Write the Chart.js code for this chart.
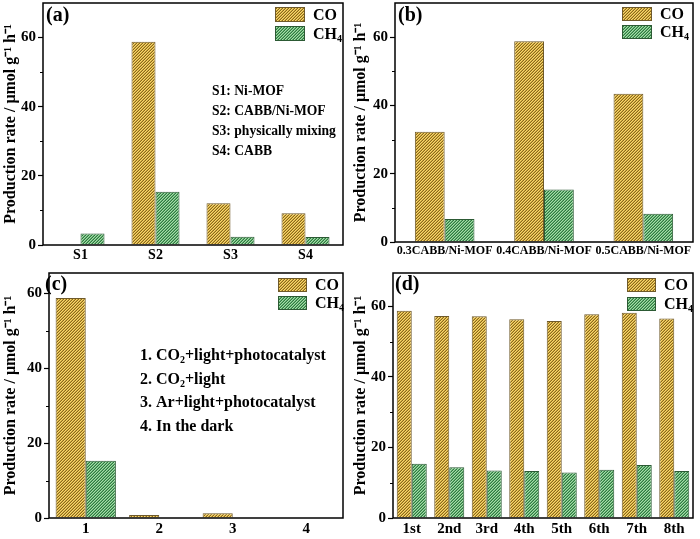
<!DOCTYPE html>
<html><head><meta charset="utf-8">
<script src="https://cdn.jsdelivr.net/npm/chart.js@4/dist/chart.umd.min.js"></script>
<style>
html,body{margin:0;padding:0;background:#fff;}
body{width:700px;height:539px;position:relative;overflow:hidden;}
canvas{position:absolute;}
</style></head><body>
<canvas id="ca" width="350" height="270" style="left:0;top:0"></canvas>
<canvas id="cb" width="350" height="270" style="left:350px;top:0"></canvas>
<canvas id="cc" width="350" height="269" style="left:0;top:270px"></canvas>
<canvas id="cd" width="350" height="269" style="left:350px;top:270px"></canvas>
<script>
// ---------- data ----------
const seriesNames = ['CO', 'CH₄'];

const catsA = ['S1', 'S2', 'S3', 'S4'];
const coA   = [0, 58.8, 12.1, 9.2];
const ch4A  = [3.3, 15.4, 2.4, 2.3];
const notesA = ['S1: Ni-MOF', 'S2: CABB/Ni-MOF', 'S3: physically mixing', 'S4: CABB'];

const catsB = ['0.3CABB/Ni-MOF', '0.4CABB/Ni-MOF', '0.5CABB/Ni-MOF'];
const coB   = [32.3, 58.8, 43.4];
const ch4B  = [6.7, 15.4, 8.3];

const catsC = ['1', '2', '3', '4'];
const coC   = [58.7, 0.8, 1.3, 0];
const ch4C  = [15.3, 0, 0, 0];
const notesC = ['1. CO₂+light+photocatalyst', '2. CO₂+light', '3. Ar+light+photocatalyst', '4. In the dark'];

const catsD = ['1st', '2nd', '3rd', '4th', '5th', '6th', '7th', '8th'];
const coD   = [58.8, 57.3, 57.2, 56.4, 55.9, 57.8, 58.2, 56.6];
const ch4D  = [15.4, 14.4, 13.5, 13.3, 12.9, 13.7, 15.0, 13.3];

const yTitle = 'Production rate / μmol g⁻¹ h⁻¹';

// ---------- helpers ----------
const FAM = "'Liberation Serif','Times New Roman',serif";

function makePattern(ctx, cols) {
  const t = document.createElement('canvas');
  t.width = 3; t.height = 3;
  const g = t.getContext('2d');
  for (let x = 0; x < 3; x++) for (let y = 0; y < 3; y++) {
    g.fillStyle = cols[(x + y) % 3];
    g.fillRect(x, y, 1, 1);
  }
  return ctx.createPattern(t, 'repeat');
}
const CO_COLS = ['#f5d872', '#d2a83c', '#8a681c'];
const CH4_COLS = ['#a6dba8', '#62b072', '#2f7840'];
const CO_BORDER = '#6f5a2a';
const CH4_BORDER = '#2c5a34';

const SUBS = {'₀':'0','₁':'1','₂':'2','₃':'3','₄':'4'};
function drawRich(ctx, text, x, y, size) {
  let cx = x;
  for (const ch of text) {
    if (SUBS[ch]) {
      ctx.font = 'bold ' + Math.round(size * 0.65) + 'px ' + FAM;
      ctx.fillText(SUBS[ch], cx, y + size * 0.28);
      cx += ctx.measureText(SUBS[ch]).width;
    } else {
      ctx.font = 'bold ' + size + 'px ' + FAM;
      ctx.fillText(ch, cx, y);
      cx += ctx.measureText(ch).width;
    }
  }
}

const framePlugin = {
  id: 'frame',
  afterDraw(chart, args, o) {
    const ctx = chart.ctx, a = chart.chartArea, ys = chart.scales.y;
    ctx.save();
    ctx.strokeStyle = '#000';
    ctx.lineWidth = 1.5;
    ctx.strokeRect(a.left, a.top, a.right - a.left, a.bottom - a.top);
    // minor y ticks
    ctx.lineWidth = 1;
    for (let v = 10; v < ys.max; v += 20) {
      const py = Math.round(ys.getPixelForValue(v)) + 0.5;
      ctx.beginPath(); ctx.moveTo(a.left - 3, py); ctx.lineTo(a.left, py); ctx.stroke();
    }
    ctx.fillStyle = '#000';
    ctx.textBaseline = 'middle';
    ctx.textAlign = 'left';
    // panel label
    ctx.font = 'bold 20px ' + FAM;
    ctx.fillText(o.label, o.labelX, o.labelY);
    // legend
    const L = o.legend;
    chart.data.datasets.forEach((ds, i) => {
      const by = L.y + i * L.gap;
      ctx.fillStyle = ds.backgroundColor;
      ctx.fillRect(L.x, by, L.w, L.h);
      ctx.strokeStyle = ds.borderColor;
      ctx.lineWidth = 1;
      ctx.strokeRect(L.x + 0.5, by + 0.5, L.w - 1, L.h - 1);
      ctx.fillStyle = '#000';
      drawRich(ctx, ds.label, L.x + L.w + 8, by + L.h / 2 + 1, L.font);
    });
    // notes
    if (o.notes) {
      o.notes.lines.forEach((s, i) => {
        drawRich(ctx, s, o.notes.x, o.notes.y + i * o.notes.lh, o.notes.size);
      });
    }
    ctx.restore();
  }
};

function build(id, cats, co, ch4, cfg) {
  const cv = document.getElementById(id);
  const ctx = cv.getContext('2d');
  return new Chart(ctx, {
    type: 'bar',
    data: {
      labels: cats,
      datasets: [
        { label: seriesNames[0], data: co, backgroundColor: makePattern(ctx, CO_COLS),
          borderColor: CO_BORDER, borderWidth: 1 },
        { label: seriesNames[1], data: ch4, backgroundColor: makePattern(ctx, CH4_COLS),
          borderColor: CH4_BORDER, borderWidth: 1 }
      ]
    },
    options: {
      responsive: false,
      animation: false,
      devicePixelRatio: 1,
      layout: { padding: { left: 0, right: 350 - cfg.right, top: cfg.top, bottom: 0 } },
      datasets: { bar: { categoryPercentage: cfg.cat, barPercentage: 1 } },
      scales: {
        x: {
          afterFit(s) { s.height = cfg.xh; s.paddingLeft = 0; s.paddingRight = 0; },
          border: { display: false },
          grid: { display: false, drawTicks: false, tickLength: 0 },
          ticks: { color: '#000', font: { family: FAM, size: cfg.xfont, weight: 'bold' },
                   padding: 2, maxRotation: 0, autoSkip: false }
        },
        y: {
          min: 0, max: cfg.ymax,
          afterFit(s) { s.width = cfg.left; s.paddingTop = 0; s.paddingBottom = 0; },
          border: { display: false },
          grid: { drawOnChartArea: false, drawTicks: true, tickLength: 5, color: '#000', tickWidth: 1.2 },
          ticks: { stepSize: 20, includeBounds: false, color: '#000',
                   font: { family: FAM, size: 15, weight: 'bold' }, padding: 2 },
          title: { display: true, text: yTitle, color: '#000',
                   font: { family: FAM, size: 16, weight: 'bold' }, padding: { top: 1, bottom: 0 } }
        }
      },
      plugins: {
        legend: { display: false },
        tooltip: { enabled: false },
        frame: cfg.frame
      }
    },
    plugins: [framePlugin]
  });
}

build('ca', catsA, coA, ch4A, {
  left: 43, right: 343, top: 3, xh: 25, ymax: 70, cat: 0.64, xfont: 14,
  frame: { label: '(a)', labelX: 46, labelY: 16,
           legend: { x: 275, y: 7, w: 30, h: 15, gap: 19, font: 16 },
           notes: { x: 212, y: 91, lh: 20, size: 13.6, lines: notesA } }
});
build('cb', catsB, coB, ch4B, {
  left: 45, right: 343, top: 3, xh: 28, ymax: 70, cat: 0.6, xfont: 12,
  frame: { label: '(b)', labelX: 48, labelY: 16,
           legend: { x: 272, y: 7, w: 30, h: 14, gap: 18, font: 16 } }
});
build('cc', catsC, coC, ch4C, {
  left: 49, right: 343, top: 3, xh: 21, ymax: 65.4, cat: 0.82, xfont: 15,
  frame: { label: '(c)', labelX: 45, labelY: 15,
           legend: { x: 278, y: 8, w: 29, h: 14, gap: 18, font: 16 },
           notes: { x: 140, y: 86, lh: 23.5, size: 16, lines: notesC } }
});
build('cd', catsD, coD, ch4D, {
  left: 43, right: 343, top: 3, xh: 21, ymax: 69.5, cat: 0.8, xfont: 15,
  frame: { label: '(d)', labelX: 45, labelY: 15,
           legend: { x: 277, y: 8, w: 29, h: 14, gap: 19, font: 16 } }
});
</script>
</body></html>
